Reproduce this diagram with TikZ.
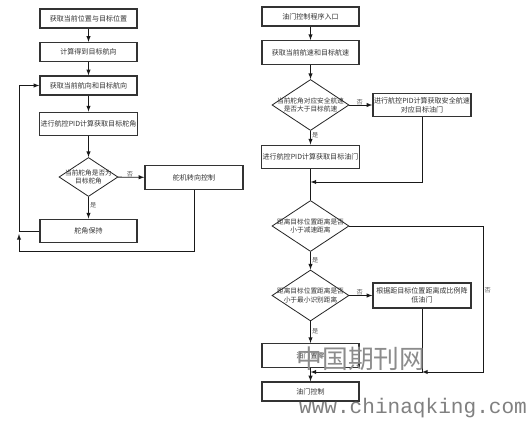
\documentclass[tikz,border=0pt]{standalone}
\usepackage{fontspec}
\newfontfamily\cjk{Noto Sans CJK SC}
\newfontfamily\wmmono{Liberation Mono}
\usetikzlibrary{shapes.geometric}

\begin{document}
\begin{tikzpicture}[x=0.03cm, y=-0.03cm, >=latex,
        box/.style={rectangle, draw=black!80, line width=1.1pt, fill=white, minimum width=2.91cm, minimum height=0.57cm, inner sep=1pt, align=center, text=black!80, font=\cjk\fontsize{6}{7.4}\selectfont},
        tallbox/.style={box, minimum height=0.71cm},
        smalldia/.style={diamond, draw=black!85, line width=0.7pt, inner sep=0pt, minimum width=1.77cm, minimum height=1.17cm},
        bigdia/.style={diamond, draw=black!85, line width=0.7pt, inner sep=0pt, minimum width=2.31cm, minimum height=1.53cm},
        diatext/.style={align=center, text=black!80, font=\cjk\fontsize{5.7}{7}\selectfont},
        line/.style={line width=0.7pt, black!90},
        yn/.style={font=\cjk\fontsize{5.3}{6}\selectfont, text=black!65, inner sep=1pt}
    ]
    \useasboundingbox (0,0) rectangle (530,421);

    % Left flow - heading control
    \node[box] (pos) at (88.5, 18.5) {获取当前位置与目标位置};
    \node[box] (calc) at (88.5, 52) {计算得到目标航向};
    \node[box] (head) at (88.5, 85.5) {获取当前航向和目标航向};
    \node[tallbox] (pidrud) at (88.5, 124) {进行航控PID计算获取目标舵角};
    \node[smalldia, label={[diatext]center:当前舵角是否为\\目标舵角}] (isrud) at (88.5, 177) {};
    \node[tallbox, minimum width=2.94cm] (servo) at (194, 177.5) {舵机转向控制};
    \node[tallbox] (keep) at (88.5, 231) {舵角保持};
    \coordinate (lkeep) at (19, 231);
    \coordinate (lbot) at (19, 251);
    \coordinate (lup) at (19, 234);

    \draw[->, line] (pos) -- (calc);
    \draw[->, line] (calc) -- (head);
    \draw[->, line] (head) -- (pidrud);
    \draw[->, line] (pidrud) -- (isrud);
    \draw[->, line] (isrud) -- node[yn, above=-1pt, pos=0.45] {否} (servo);
    \draw[->, line] (isrud) -- node[yn, right, pos=0.4] {是} (keep);
    \draw[->, line] (keep.west) -- (lkeep) |- (head.west);
    \draw[->, line] (servo.south) |- (lbot) -- (lup);

    % Right flow - throttle control
    \node[box] (entry) at (310.5, 16.5) {油门控制程序入口};
    \node[tallbox] (speed) at (310.5, 52.5) {获取当前航速和目标航速};
    \node[bigdia, label={[diatext]center:当前舵角对应安全航速\\是否大于目标航速}] (issafe) at (310.5, 105) {};
    \node[tallbox, minimum width=2.94cm] (pidsafe) at (422, 105) {进行航控PID计算获取安全航速\\对应目标油门};
    \node[tallbox] (pidthr) at (310.5, 157) {进行航控PID计算获取目标油门};
    \coordinate (merge1) at (310.5, 182);
    \node[bigdia, label={[diatext]center:距离目标位置距离是否\\小于减速距离}] (isslow) at (310.5, 226) {};
    \node[bigdia, label={[diatext]center:距离目标位置距离是否\\小于最小识别距离}] (ismin) at (310.5, 295.5) {};
    \node[tallbox, minimum width=2.94cm, minimum height=0.75cm] (lower) at (422, 295.5) {根据距目标位置距离成比例降\\低油门};
    \node[tallbox] (zero) at (310.5, 355.5) {油门置零};
    \node[box] (thr) at (310.5, 391.5) {油门控制};
    \coordinate (rright) at (483, 226);
    \coordinate (rbot) at (483, 372);
    \coordinate (merge2) at (422, 372);
    \coordinate (merge3) at (310.5, 372);

    \draw[->, line] (entry) -- (speed);
    \draw[->, line] (speed) -- (issafe);
    \draw[->, line] (issafe) -- node[yn, above=-1pt, pos=0.45] {否} (pidsafe);
    \draw[->, line] (issafe) -- node[yn, right, pos=0.35] {是} (pidthr);
    \draw[line] (pidthr) -- (isslow);
    \draw[->, line] (pidsafe.south) |- (merge1);
    \draw[->, line] (isslow) -- node[yn, right, pos=0.45] {是} (ismin);
    \draw[->, line] (ismin) -- node[yn, above=-1pt, pos=0.45] {否} (lower);
    \draw[->, line] (ismin) -- node[yn, right, pos=0.45] {是} (zero);
    \draw[->, line] (isslow.east) -- (rright) -- node[yn, right, pos=0.44] {否} (rbot) -- (merge2);
    \draw[->, line] (lower.south) -- (merge2) -- (merge3);
    \draw[->, line] (zero) -- (thr);

    % watermark
    \node[text=black!45, font=\cjk\fontsize{22}{24}\selectfont, inner sep=0pt] (wmcn) at (361, 359) {中国期刊网};
    \node[text=black!50, font=\wmmono\fontsize{18}{20}\selectfont, inner sep=0pt] (wmurl) at (413, 408) {www.chinaqking.com};
\end{tikzpicture}
\end{document}
